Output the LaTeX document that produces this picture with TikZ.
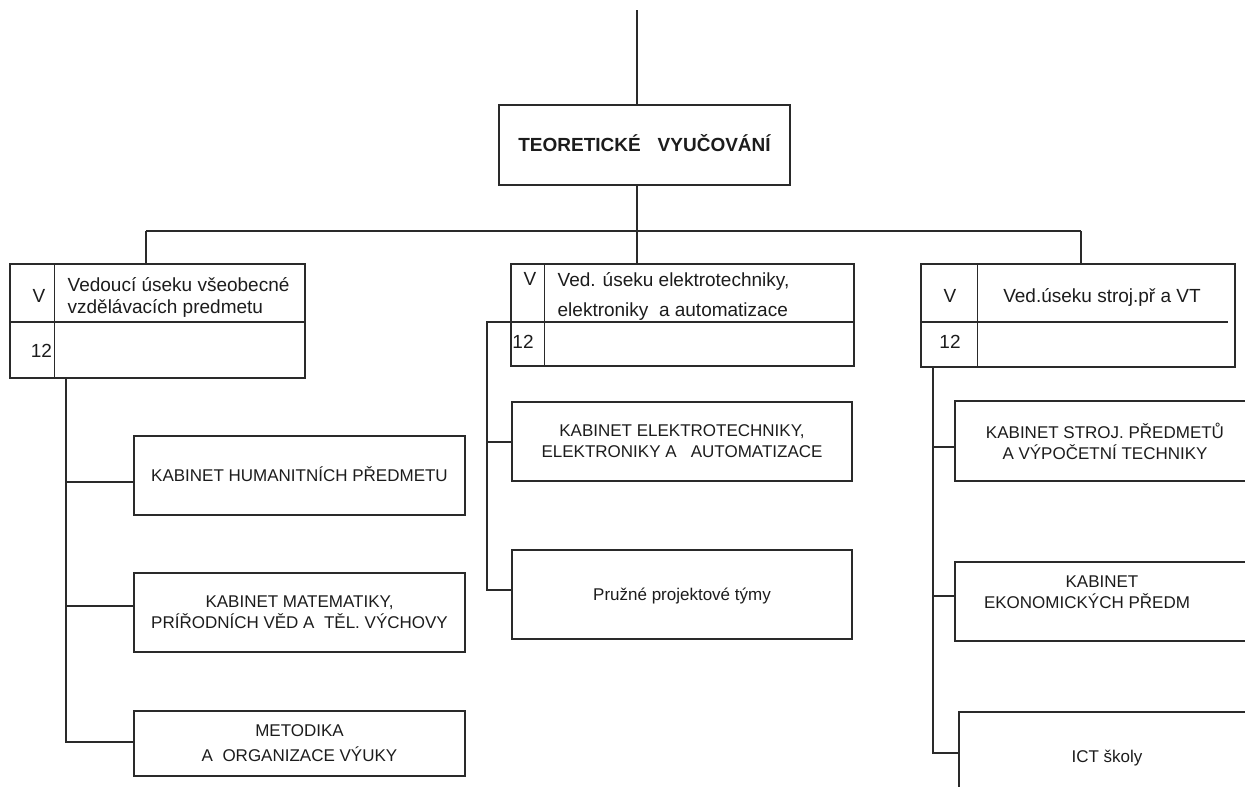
\documentclass[tikz,border=0pt]{standalone}
\usepackage{fontspec}
\setmainfont{Liberation Sans}
\definecolor{ln}{HTML}{2A2A2A}
\definecolor{tx}{HTML}{1C1C1C}
\begin{document}
\begin{tikzpicture}[x=1pt,y=-1pt,
  line width=1.3pt, draw=ln,
  box/.style={draw=ln, inner sep=0pt, align=center, text=tx,
              font=\fontsize{17}{21}\selectfont},
  one/.style={text height=12.2pt, text depth=0pt},
  hbox/.style={draw=ln, inner sep=0pt},
  txt/.style={inner sep=0pt, text=tx, font=\fontsize{19}{22}\selectfont},
  base/.style={txt, anchor=base}]
\useasboundingbox (0,0) rectangle (1245,787);
\clip (0,0) rectangle (1245,787);

% top level
\node[box, minimum width=291pt, minimum height=80pt, text height=13.6pt, text depth=0pt,
      font=\bfseries\fontsize{19}{22}\selectfont] (title) at (644.5,145)
      {TEORETICKÉ\hspace{17pt}VYUČOVÁNÍ};
\coordinate (top) at (637,10);
\coordinate (bar) at (637,231);
\coordinate (barL) at (146,231);
\coordinate (barR) at (1081,231);
\draw (top) -- (top |- title.north);
\draw (title.south -| top) -- (bar);
\draw (barL) -- (barR);

% section heads
\node[hbox, minimum width=295pt, minimum height=114pt] (L) at (157.5,321) {};
\node[hbox, minimum width=343pt, minimum height=102pt] (M) at (682.5,315) {};
\node[hbox, minimum width=314pt, minimum height=103pt] (R) at (1078,315.5) {};
\draw (barL) -- (barL |- L.north);
\draw (bar) -- (bar |- M.north);
\draw (barR) -- (barR |- R.north);

% inner rules of the heads
\draw ([xshift=45pt]L.north west) -- ([xshift=45pt]L.south west);
\draw ([yshift=-1pt]L.west) -- ([yshift=-1pt]L.east);
\draw ([xshift=34pt]M.north west) -- ([xshift=34pt]M.south west);
\draw ([yshift=-7pt]M.west) -- ([yshift=-7pt]M.east);
\draw ([xshift=57pt]R.north west) -- ([xshift=57pt]R.south west);
\draw ([yshift=-6.5pt]R.west) -- ++(308,0);

% head texts
\node[base] (Lv) at (39,302.8) {V};
\node[base] (Ln) at (41.5,357.8) {12};
\node[txt, anchor=west, align=left] (Lt) at (67,297)
     {Vedoucí úseku všeobecné\\vzdělávacích predmetu};
\node[base] (Mv) at (530,285.5) {V};
\node[base] (Mn) at (523,348.5) {12};
\node[txt, anchor=west, align=left, font=\fontsize{19}{30}\selectfont] (Mt) at (557,296)
     {Ved. úseku elektrotechniky,\\elektroniky\ \ a automatizace};
\node[base] (Rv) at (950,302.8) {V};
\node[base] (Rn) at (950,348.8) {12};
\node[base] (Rt) at (1102,302.8) {Ved.úseku stroj.př a VT};

% left column
\node[box, minimum width=331pt, minimum height=79pt, one] (LH) at (299.5,475.5)
     {KABINET HUMANITNÍCH PŘEDMETU};
\node[box, minimum width=331pt, minimum height=79pt] (LM) at (299.5,612.5)
     {KABINET MATEMATIKY,\\PRÍŘODNÍCH VĚD A\ \ TĚL. VÝCHOVY};
\node[box, minimum width=331pt, minimum height=65pt,
      font=\fontsize{17}{25}\selectfont] (LO) at (299.5,743.5)
     {METODIKA\\A\ \ ORGANIZACE VÝUKY};
\coordinate (lt) at (66,0);
\coordinate (lh) at ([yshift=-6.5pt]LH.west);
\coordinate (lm) at ([yshift=6.5pt]LM.west);
\coordinate (lo) at ([yshift=1.5pt]LO.west);
\draw (lt |- L.south) -- (lt |- lo) -- (lo);
\draw (lt |- lh) -- (lh);
\draw (lt |- lm) -- (lm);

% middle column
\node[box, minimum width=340pt, minimum height=79pt] (MK) at (682,441.5)
     {KABINET ELEKTROTECHNIKY,\\ELEKTRONIKY A\ \ \ AUTOMATIZACE};
\node[box, minimum width=340pt, minimum height=89pt, one] (MP) at (682,594.5)
     {Pružné projektové týmy};
\coordinate (mt) at (487,0);
\coordinate (ms) at ([yshift=-7pt]M.west);
\coordinate (mk) at ([yshift=-0.5pt]MK.west);
\coordinate (mp) at ([yshift=4.5pt]MP.west);
\draw (ms) -- (mt |- ms) -- (mt |- mp) -- (mp);
\draw (mt |- mk) -- (mk);

% right column
\node[box, minimum width=300pt, minimum height=80pt] (RS) at (1105,441)
     {KABINET STROJ. PŘEDMETŮ\\A VÝPOČETNÍ TECHNIKY};
\node[box, minimum width=300pt, minimum height=79pt] (RE) at (1105,601.5) {};
\node[txt, align=center, font=\fontsize{17}{21}\selectfont] (REt) at (1102,592.5)
     {KABINET\\EKONOMICKÝCH PŘEDM\hspace*{30pt}};
\node[box, minimum width=296pt, minimum height=88pt, one] (RI) at (1107,756)
     {ICT školy};
\coordinate (rt) at (933,0);
\coordinate (rs) at ([yshift=-6pt]RS.west);
\coordinate (re) at ([yshift=5.5pt]RE.west);
\coordinate (ri) at ([yshift=3pt]RI.west);
\draw (rt |- R.south) -- (rt |- ri) -- (ri);
\draw (rt |- rs) -- (rs);
\draw (rt |- re) -- (re);
\end{tikzpicture}
\end{document}
